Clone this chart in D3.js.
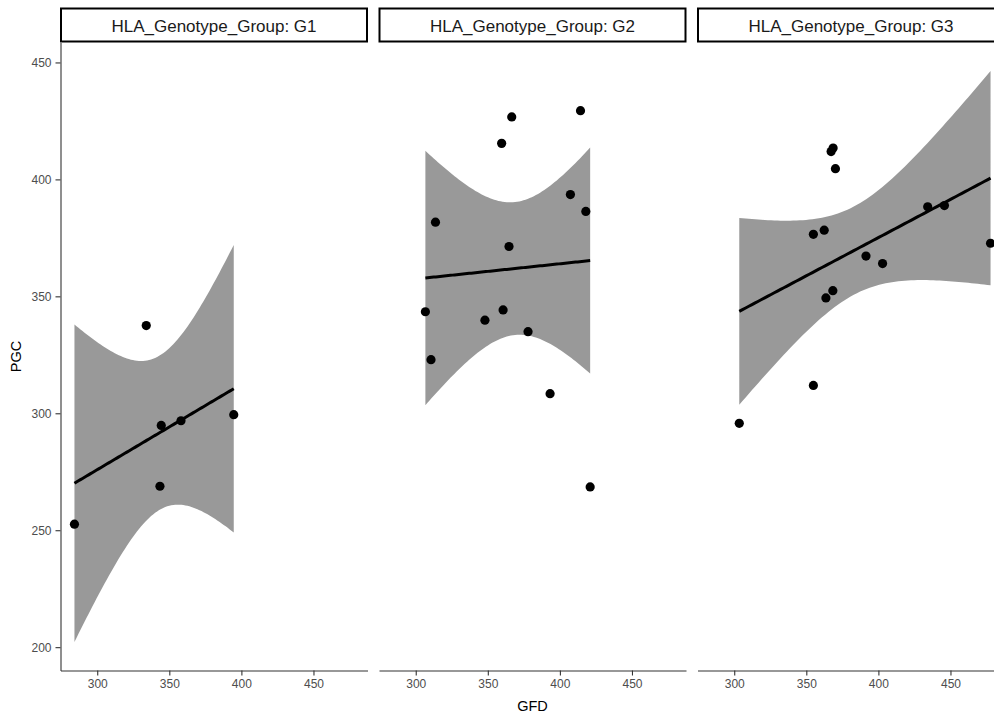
<!DOCTYPE html>
<html>
<head>
<meta charset="utf-8">
<script src="https://cdn.jsdelivr.net/npm/d3@7"></script>
<style>
  html, body { margin: 0; padding: 0; background: #fff; overflow: hidden; }
  svg { display: block; font-family: "Liberation Sans", Arial, sans-serif; }
</style>
</head>
<body>
<svg id="chart" width="1012" height="715"></svg>
<script>
// Facet groups and their GFD / PGC observations
const groups = ["G1", "G2", "G3"];
const gfdG1 = [284.2, 334.0, 344.4, 358.1, 343.5, 394.7];
const pgcG1 = [252.6, 337.5, 294.8, 296.8, 268.8, 299.4];
const gfdG2 = [366.6, 414.3, 359.6, 407.3, 418.0, 313.7, 364.7, 306.7, 360.6, 348.0, 377.9, 310.6, 393.2, 421.0];
const pgcG2 = [426.7, 429.4, 415.4, 393.5, 386.3, 381.7, 371.3, 343.4, 344.2, 339.8, 334.9, 322.9, 308.4, 268.5];
const gfdG3 = [368.6, 367.2, 370.2, 434.2, 445.8, 354.9, 362.4, 477.8, 391.4, 402.9, 368.4, 363.6, 354.9, 303.5];
const pgcG3 = [413.4, 411.9, 404.6, 388.3, 388.8, 376.5, 378.3, 372.7, 367.2, 364.0, 352.4, 349.3, 311.9, 295.7];
const xTicks = [300, 350, 400, 450];
const yTicks = [200, 250, 300, 350, 400, 450];
const stripPrefix = "HLA_Genotype_Group: ";
const xTitle = "GFD";
const yTitle = "PGC";

const seriesX = [gfdG1, gfdG2, gfdG3];
const seriesY = [pgcG1, pgcG2, pgcG3];

// --- Student t quantile (for the 95% confidence band) ---
function lgamma(z) {
  const g = 7, c = [0.99999999999980993, 676.5203681218851, -1259.1392167224028,
    771.32342877765313, -176.61502916214059, 12.507343278686905,
    -0.13857109526572012, 9.9843695780195716e-6, 1.5056327351493116e-7];
  if (z < 0.5) return Math.log(Math.PI / Math.sin(Math.PI * z)) - lgamma(1 - z);
  z -= 1;
  let x = c[0];
  for (let i = 1; i < g + 2; i++) x += c[i] / (z + i);
  const t = z + g + 0.5;
  return 0.5 * Math.log(2 * Math.PI) + (z + 0.5) * Math.log(t) - t + Math.log(x);
}
function tCdf(q, df) {
  const k = Math.exp(lgamma((df + 1) / 2) - lgamma(df / 2)) / Math.sqrt(df * Math.PI);
  const f = t => Math.pow(1 + t * t / df, -(df + 1) / 2);
  const n = 2000, h = q / n;
  let s = f(0) + f(q);
  for (let i = 1; i < n; i++) s += (i % 2 ? 4 : 2) * f(i * h);
  return 0.5 + k * s * h / 3;
}
function tQuantile(p, df) {
  let lo = 0, hi = 50;
  for (let i = 0; i < 80; i++) {
    const mid = (lo + hi) / 2;
    if (tCdf(mid, df) < p) lo = mid; else hi = mid;
  }
  return (lo + hi) / 2;
}

// --- Linear fit with confidence band, evaluated on 80 points ---
function linearFit(xs, ys) {
  const n = xs.length;
  const mx = d3.mean(xs), my = d3.mean(ys);
  let sxx = 0, sxy = 0;
  for (let i = 0; i < n; i++) {
    sxx += (xs[i] - mx) ** 2;
    sxy += (xs[i] - mx) * (ys[i] - my);
  }
  const b = sxy / sxx, a = my - b * mx;
  let sse = 0;
  for (let i = 0; i < n; i++) sse += (ys[i] - (a + b * xs[i])) ** 2;
  const sigma = Math.sqrt(sse / (n - 2));
  const tq = tQuantile(0.975, n - 2);
  const [x0, x1] = d3.extent(xs);
  return d3.range(80).map(i => {
    const x = x0 + (x1 - x0) * i / 79;
    const fit = a + b * x;
    const se = sigma * Math.sqrt(1 / n + (x - mx) ** 2 / sxx);
    return { x, y: fit, lo: fit - tq * se, hi: fit + tq * se };
  });
}

const fits = seriesX.map((xs, i) => linearFit(xs, seriesY[i]));

// --- Shared scales (5% expansion like ggplot) ---
const allX = seriesX.flat();
const allY = seriesY.flat().concat(fits.flat().flatMap(d => [d.lo, d.hi]));
function expand([a, b]) { const p = (b - a) * 0.05; return [a - p, b + p]; }

const panelW = 307, gapW = 11.5, panelLeft = 60.5;
const panelTop = 42.5, panelBottom = 670.5;
const stripTop = 8.5;

const x = d3.scaleLinear().domain(expand(d3.extent(allX))).range([0, panelW]);
const y = d3.scaleLinear().domain(expand(d3.extent(allY))).range([panelBottom, panelTop]);

const svg = d3.select("#chart");

groups.forEach((g, i) => {
  const left = panelLeft + i * (panelW + gapW);
  const panel = svg.append("g").attr("transform", `translate(${left},0)`);

  // confidence ribbon
  panel.append("path")
    .datum(fits[i])
    .attr("fill", "#999999")
    .attr("d", d3.area().x(d => x(d.x)).y0(d => y(d.lo)).y1(d => y(d.hi)));

  // fitted line
  panel.append("path")
    .datum(fits[i])
    .attr("fill", "none")
    .attr("stroke", "#000")
    .attr("stroke-width", 3)
    .attr("d", d3.line().x(d => x(d.x)).y(d => y(d.y)));

  // points
  panel.selectAll("circle.pt")
    .data(seriesX[i].map((v, j) => [v, seriesY[i][j]]))
    .join("circle")
    .attr("class", "pt")
    .attr("cx", d => x(d[0]))
    .attr("cy", d => y(d[1]))
    .attr("r", 4.6)
    .attr("fill", "#000");

  // x axis
  const xa = panel.append("g")
    .attr("transform", `translate(0,${panelBottom})`)
    .call(d3.axisBottom(x).tickValues(xTicks).tickSize(5).tickPadding(4).tickSizeOuter(0));
  xa.select(".domain").attr("stroke", "#333").attr("stroke-width", 1.1);
  xa.selectAll(".tick line").attr("stroke", "#333").attr("stroke-width", 1.1);
  xa.selectAll(".tick text").attr("fill", "#4d4d4d").style("font-size", "12px")
    .style("font-family", "'Liberation Sans', Arial, sans-serif");

  // y axis only on the first panel
  if (i === 0) {
    const ya = panel.append("g")
      .call(d3.axisLeft(y).tickValues(yTicks).tickSize(5).tickPadding(4).tickSizeOuter(0));
    ya.select(".domain").attr("stroke", "#333").attr("stroke-width", 1.1);
    ya.selectAll(".tick line").attr("stroke", "#333").attr("stroke-width", 1.1);
    ya.selectAll(".tick text").attr("fill", "#4d4d4d").style("font-size", "12px")
      .style("font-family", "'Liberation Sans', Arial, sans-serif");
  }

  // facet strip
  panel.append("rect")
    .attr("x", 0.5).attr("y", stripTop)
    .attr("width", panelW - 1).attr("height", panelTop - stripTop - 1)
    .attr("fill", "#fff")
    .attr("stroke", "#000")
    .attr("stroke-width", 2);
  panel.append("text")
    .attr("x", panelW / 2)
    .attr("y", (stripTop + panelTop) / 2)
    .attr("dy", "0.36em")
    .attr("text-anchor", "middle")
    .style("font-size", "17px")
    .attr("fill", "#1a1a1a")
    .text(stripPrefix + g);
});

// axis titles
const plotRight = panelLeft + 3 * panelW + 2 * gapW;
svg.append("text")
  .attr("x", (panelLeft + plotRight) / 2)
  .attr("y", 711)
  .attr("text-anchor", "middle")
  .style("font-size", "14.5px")
  .attr("fill", "#000")
  .text(xTitle);
svg.append("text")
  .attr("transform", `translate(21,${(panelTop + panelBottom) / 2}) rotate(-90)`)
  .attr("text-anchor", "middle")
  .style("font-size", "14.5px")
  .attr("fill", "#000")
  .text(yTitle);
</script>
</body>
</html>
